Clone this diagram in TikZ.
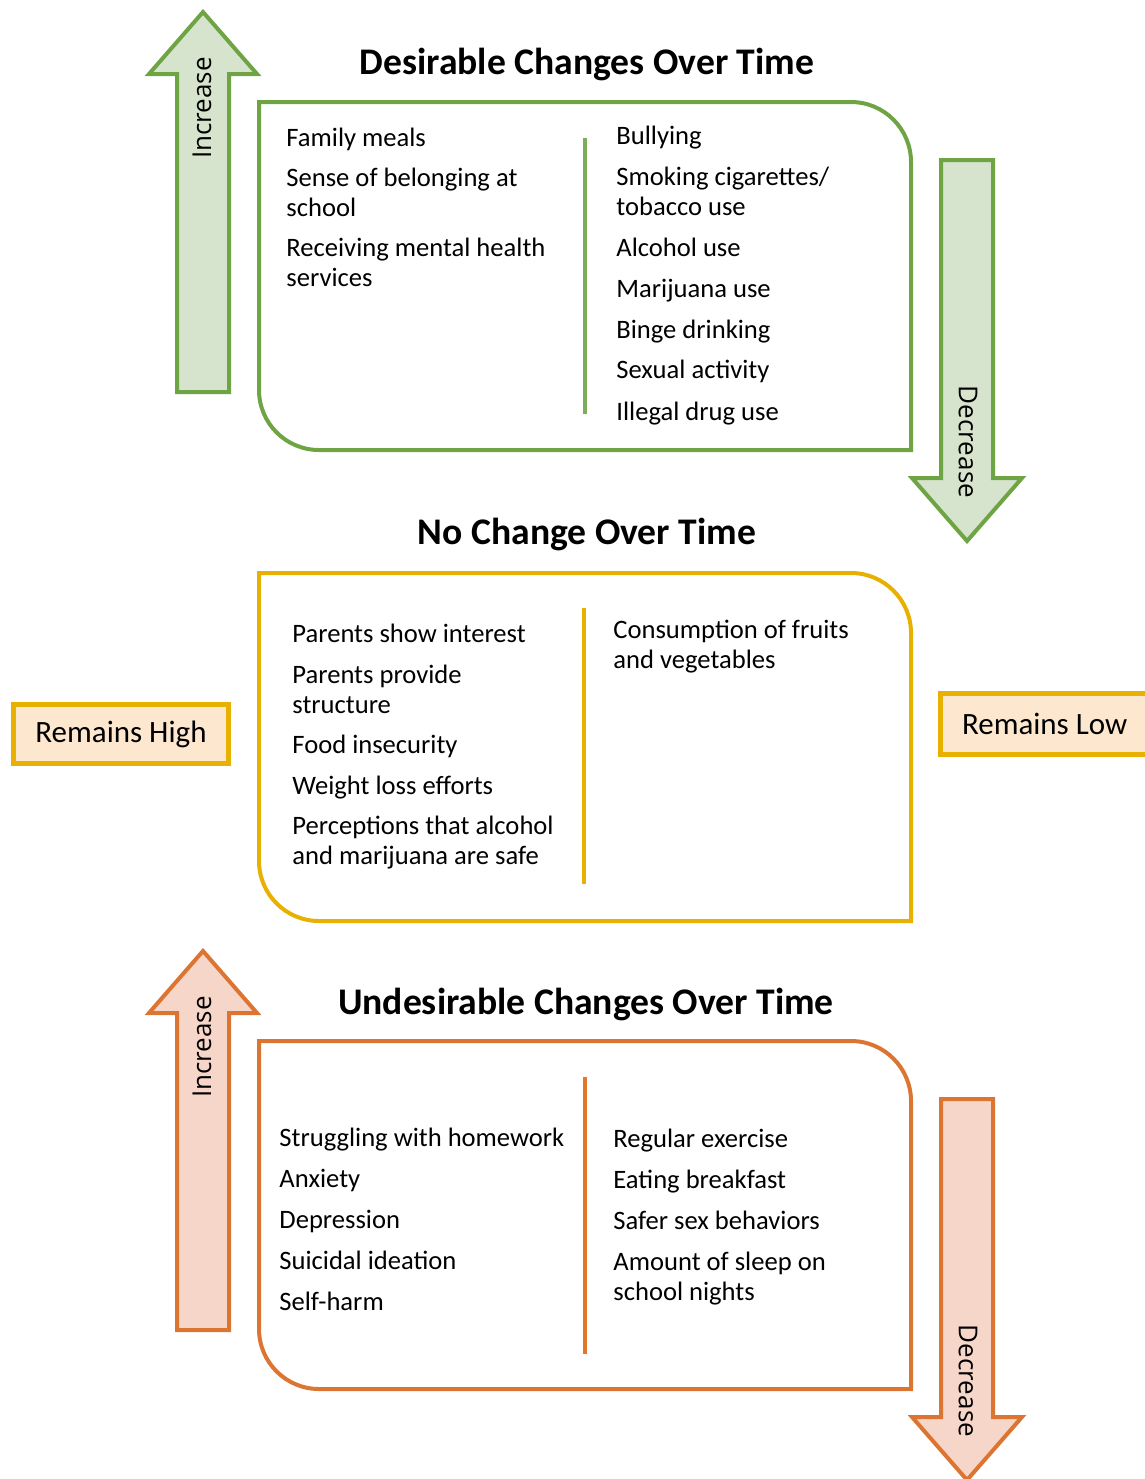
\documentclass[tikz,border=0pt]{standalone}
\usepackage{fontspec}
\setmainfont{Carlito}
\newfontfamily\arrowfont{Open Sans}
\usetikzlibrary{positioning}
\definecolor{darkGreen}{HTML}{6FA445}
\definecolor{lightGreen}{HTML}{D6E4CE}
\definecolor{darkYellow}{HTML}{E8B000}
\definecolor{lightOrange}{HTML}{FDE8CF}
\definecolor{darkOrange}{HTML}{DC7532}
\definecolor{lightRed}{HTML}{F7D6CA}
% box with rounded top right and bottom left corners
\newcommand{\roundbox}[2]{
    \draw [line width=2pt, #2] (259,#1) -- (851,#1) .. controls (884.1,#1) and (911,#1+26.9) .. (911,#1+60) -- (911,#1+348) -- (319,#1+348) .. controls (285.9,#1+348) and (259,#1+321.1) .. (259,#1+288) -- cycle;
}
% block arrows
\newcommand{\uparr}[4]{
    \draw [line width=2pt, draw=#3, fill=#4] (203,#1) -- (257,#1+62) -- (229,#1+62) -- (229,#2) -- (177,#2) -- (177,#1+62) -- (149,#1+62) -- cycle;
}
\newcommand{\downarr}[4]{
    \draw [line width=2pt, draw=#3, fill=#4] (941,#1) -- (993,#1) -- (993,#2-63) -- (1022,#2-63) -- (967,#2) -- (912,#2-63) -- (941,#2-63) -- cycle;
}

\begin{document}
\begin{tikzpicture}[x=0.5pt, y=-0.5pt, inner sep=0pt,
    listtext/.style={anchor=north west, align=left, font=\fontsize{13.3}{15}\selectfont},
    titletext/.style={anchor=base, font=\fontsize{18.8}{22}\selectfont\bfseries},
    arrowtext/.style={font=\arrowfont\fontsize{13}{15}\selectfont},
    statebox/.style={draw=darkYellow, line width=2.5pt, fill=lightOrange, font=\fontsize{15.5}{18}\selectfont}]
    \useasboundingbox (0,0) rectangle (1145,1479);

    % desirable changes
    \uparr{12}{392}{darkGreen}{lightGreen}
    \downarr{160}{541}{darkGreen}{lightGreen}
    \roundbox{102}{darkGreen}
    \node [titletext] (des_title) at (587,74) {Desirable Changes Over Time};
    \node [arrowtext, rotate=90] (des_inc) at (202,108) {Increase};
    \node [arrowtext, rotate=-90] (des_dec) at (968,442) {Decrease};
    \node [listtext] (des_left) at (286,128) {Family meals\\[5pt]Sense of belonging at\\school\\[5pt]Receiving mental health\\services};
    \node [listtext] (des_right) at (616,126) {Bullying\\[5.4pt]Smoking cigarettes/\\tobacco use\\[5.4pt]Alcohol use\\[5.4pt]Marijuana use\\[5.4pt]Binge drinking\\[5.4pt]Sexual activity\\[5.8pt]Illegal drug use};
    \draw [line width=2pt, darkGreen!90!white] (585,138) -- (585,414);

    % no change
    \roundbox{573}{darkYellow}
    \node [titletext] (none_title) at (587,544) {No Change Over Time};
    \node [statebox, minimum width=107.5pt, minimum height=29.5pt] (rem_high) at (121,734) {Remains High};
    \node [statebox, anchor=west, text width=95pt, align=flush left, inner xsep=11pt, minimum height=30.5pt] (rem_low) at (937.5,724) {Remains Low};
    \node [listtext] (none_left) at (292,624) {Parents show interest\\[5.3pt]Parents provide\\structure\\[5pt]Food insecurity\\[5.3pt]Weight loss efforts\\[5.3pt]Perceptions that alcohol\\and marijuana are safe};
    \node [listtext] (none_right) at (613,620) {Consumption of fruits\\and vegetables};
    \draw [line width=2pt, darkYellow] (584,608) -- (584,884);

    % undesirable changes
    \uparr{951}{1330}{darkOrange}{lightRed}
    \downarr{1099}{1480}{darkOrange}{lightRed}
    \roundbox{1041}{darkOrange}
    \node [titletext] (und_title) at (586,1014) {Undesirable Changes Over Time};
    \node [arrowtext, rotate=90] (und_inc) at (202,1047) {Increase};
    \node [arrowtext, rotate=-90] (und_dec) at (968,1381) {Decrease};
    \node [listtext] (und_left) at (279,1128) {Struggling with homework\\[5.5pt]Anxiety\\[5.5pt]Depression\\[5.5pt]Suicidal ideation\\[5.5pt]Self-harm};
    \node [listtext] (und_right) at (613,1129) {Regular exercise\\[5.5pt]Eating breakfast\\[5.5pt]Safer sex behaviors\\[5.5pt]Amount of sleep on\\school nights};
    \draw [line width=2pt, darkOrange!80!orange] (585,1077) -- (585,1354);
\end{tikzpicture}
\end{document}
